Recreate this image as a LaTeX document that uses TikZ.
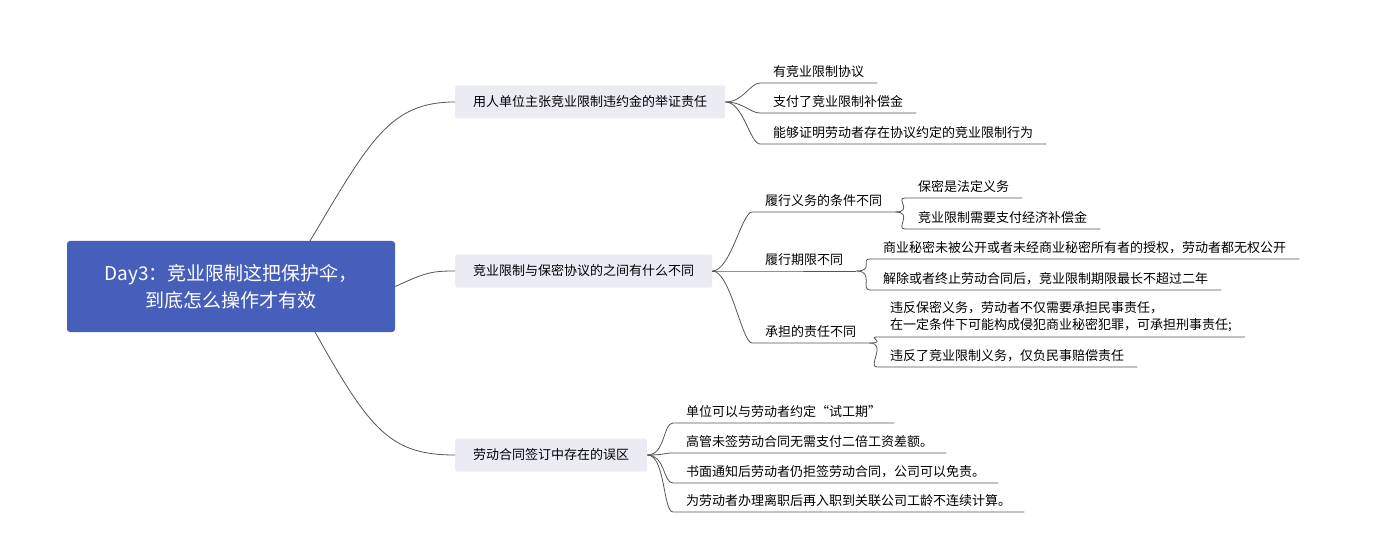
\documentclass[tikz,border=0pt]{standalone}
\usepackage{fontspec}
\setmainfont{Noto Sans CJK SC}
\usetikzlibrary{positioning}
\definecolor{rootblue}{HTML}{465FBB}
\definecolor{topicgrey}{HTML}{EBEBF3}
\definecolor{linkgrey}{HTML}{555555}
\tikzset
{
    rootnode/.style  = {rectangle, rounded corners=3pt, fill=rootblue, text=white, align=center, minimum width=328pt, minimum height=91pt, font=\fontsize{19}{27}\selectfont},
    topicnode/.style = {rectangle, rounded corners=2pt, fill=topicgrey, minimum height=33pt, inner xsep=18pt, font=\fontsize{13}{16}\selectfont, anchor=west},
    leafnode/.style  = {anchor=south west, inner xsep=13pt, inner ysep=5pt, align=left, font=\fontsize{13}{17}\selectfont},
    link/.style      = {draw=linkgrey, line width=0.8pt}
}
\newcommand{\branch}[2]{\draw[link] (#1) .. controls +(18,0) and +(-10,0) .. (#2.south west) -- (#2.south east);}

\begin{document}
\begin{tikzpicture}[x=1pt, y=-1pt]
\useasboundingbox (0,0) rectangle (1395,556);

\node (root)[rootnode] at (231,286.5) {Day3：竞业限制这把保护伞，\\到底怎么操作才有效};

\node (ta)[topicnode] at (455,102) {用人单位主张竞业限制违约金的举证责任};
\node (tb)[topicnode] at (455,271) {竞业限制与保密协议的之间有什么不同};
\node (tc)[topicnode] at (455,455) {劳动合同签订中存在的误区};

\draw[link] (310,241) .. controls (370,140) and (390,102) .. (ta.west);
\draw[link] (root.east) .. controls (425,273) and (430,271) .. (tb.west);
\draw[link] (315,332) .. controls (370,430) and (390,455) .. (tc.west);

% first topic
\node (a1)[leafnode] at (760,83)  {有竞业限制协议};
\node (a2)[leafnode] at (760,113) {支付了竞业限制补偿金};
\node (a3)[leafnode] at (760,144) {能够证明劳动者存在协议约定的竞业限制行为};
\branch{ta.east}{a1}
\branch{ta.east}{a2}
\branch{ta.east}{a3}

% second topic
\node (b1)[leafnode] at (752,212) {履行义务的条件不同};
\node (b2)[leafnode] at (752,271) {履行期限不同};
\node (b3)[leafnode] at (752,343) {承担的责任不同};
\branch{tb.east}{b1}
\branch{tb.east}{b2}
\branch{tb.east}{b3}

\node (b11)[leafnode] at (905,198) {保密是法定义务};
\node (b12)[leafnode] at (905,229) {竞业限制需要支付经济补偿金};
\branch{b1.south east}{b11}
\branch{b1.south east}{b12}

\node (b21)[leafnode] at (870,259) {商业秘密未被公开或者未经商业秘密所有者的授权，劳动者都无权公开};
\node (b22)[leafnode] at (870,290) {解除或者终止劳动合同后，竞业限制期限最长不超过二年};
\branch{b2.south east}{b21}
\branch{b2.south east}{b22}

\node (b31)[leafnode] at (877,337) {违反保密义务，劳动者不仅需要承担民事责任，\\在一定条件下可能构成侵犯商业秘密犯罪，可承担刑事责任;};
\node (b32)[leafnode] at (877,367) {违反了竞业限制义务，仅负民事赔偿责任};
\branch{b3.south east}{b31}
\branch{b3.south east}{b32}

% third topic
\node (c1)[leafnode] at (673,423) {单位可以与劳动者约定“试工期”};
\node (c2)[leafnode] at (673,453) {高管未签劳动合同无需支付二倍工资差额。};
\node (c3)[leafnode] at (673,483) {书面通知后劳动者仍拒签劳动合同，公司可以免责。};
\node (c4)[leafnode] at (673,512) {为劳动者办理离职后再入职到关联公司工龄不连续计算。};
\branch{tc.east}{c1}
\branch{tc.east}{c2}
\branch{tc.east}{c3}
\branch{tc.east}{c4}

\end{tikzpicture}
\end{document}
